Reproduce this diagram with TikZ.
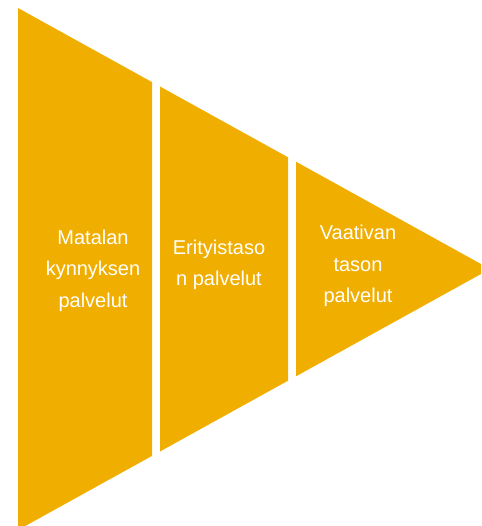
\documentclass[tikz,border=0pt]{standalone}
\usepackage{fontspec}
\setmainfont{Liberation Sans}
\definecolor{gold}{HTML}{F0AE00}
\tikzset{
  seg/.style={fill=gold, draw=none},
  lbl/.style={text=white, align=center, inner sep=0pt, font=\fontsize{20}{31.5}\selectfont}
}
\begin{document}
\begin{tikzpicture}[x=1pt,y=-1pt]
\useasboundingbox (0,0) rectangle (481,526);
\clip (0,0) rectangle (481,526);
% segments
\fill[seg] (18,8) -- (152,82.1) -- (152,455.9) -- (18,530) -- cycle;
\fill[seg] (160,86.5) -- (288,157.3) -- (288,380.7) -- (160,451.5) -- cycle;
\fill[seg] (296,161.7) -- (490,269) -- (296,376.3) -- cycle;
% labels
\node[lbl] (l1) at (93,270.5) {Matalan\\kynnyksen\\palvelut};
\node[lbl] (l2) at (219,265) {Erityistaso\\n palvelut};
\node[lbl] (l3) at (358,266) {Vaativan\\tason\\palvelut};
\end{tikzpicture}
\end{document}
